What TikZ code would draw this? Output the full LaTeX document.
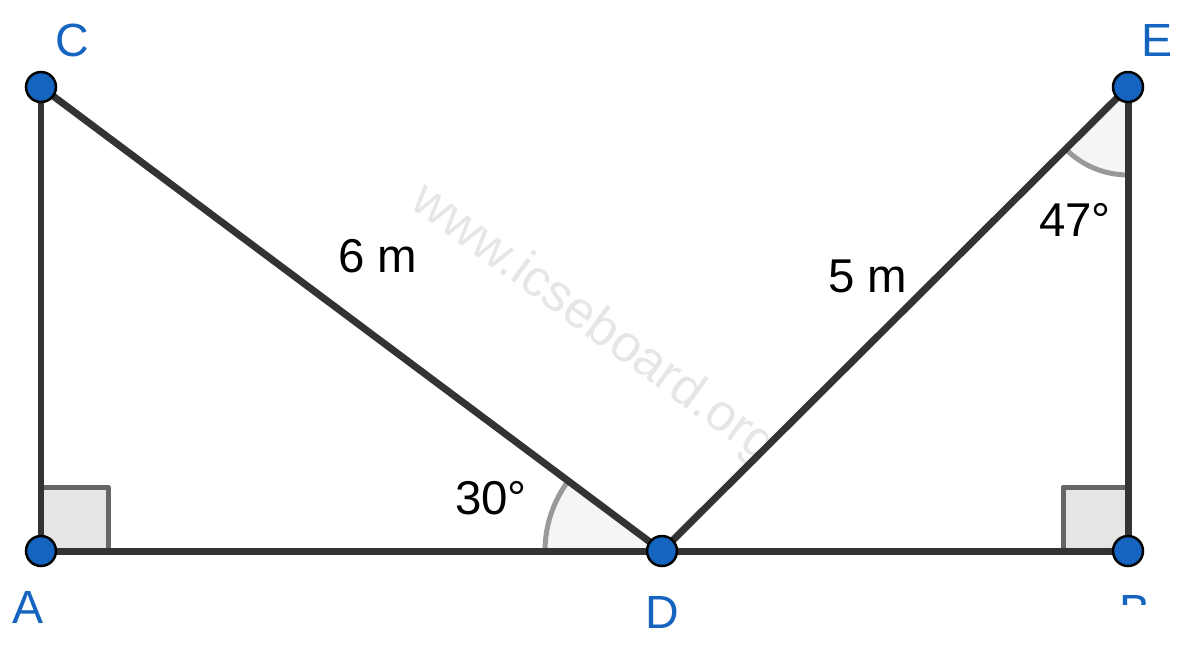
\documentclass[tikz,border=0pt]{standalone}
\usepackage{fontspec}
\setmainfont{Liberation Sans}
\definecolor{ptblue}{HTML}{1565C0}
\definecolor{segc}{HTML}{333333}
\definecolor{wmark}{HTML}{E6E6E6}
\tikzset{
  seg/.style={draw=segc, line width=0.14cm},
  pt/.style={circle, fill=ptblue, draw=black, line width=0.05cm, minimum size=0.6cm, inner sep=0pt},
  lbl/.style={text=ptblue, font=\fontsize{26.5}{30}\selectfont, inner sep=0pt},
  txt/.style={text=black, font=\fontsize{27}{30}\selectfont, inner sep=0pt},
  rightsq/.style={fill=black!10, draw=black!60, line width=0.1cm, line join=round},
  angsec/.style={fill=black!4},
  angarc/.style={draw=black!40, line width=0.1cm}
}
\begin{document}
\begin{tikzpicture}[x=0.02cm, y=-0.02cm]
\useasboundingbox (0,0) rectangle (1183,650);
\coordinate (A) at (41,551);
\coordinate (C) at (41,87);
\coordinate (D) at (662,551);
\coordinate (E) at (1128,87);
\coordinate (B) at (1128,551);
% watermark
\node[text=wmark, font=\fontsize{29.5}{32}\selectfont, rotate=-36, inner sep=0pt] (wm) at (593,324) {www.icseboard.org};
% right angles
\draw[rightsq] (A) rectangle (108,487);
\draw[rightsq] (1063,487) rectangle (B);
% angle sectors
\fill[angsec] (D) -- ++(-143.23:117) arc[start angle=-143.23, end angle=-180, radius=117] -- cycle;
\draw[angarc] (D) ++(-143.23:117) arc[start angle=-143.23, end angle=-180, radius=117];
\fill[angsec] (E) -- ++(-224.88:88) arc[start angle=-224.88, end angle=-270, radius=88] -- cycle;
\draw[angarc] (E) ++(-224.88:88) arc[start angle=-224.88, end angle=-270, radius=88];
% segments
\draw[seg] (A) -- (C);
\draw[seg] (C) -- (D);
\draw[seg] (A) -- (D);
\draw[seg] (D) -- (B);
\draw[seg] (D) -- (E);
\draw[seg] (E) -- (B);
% points
\node[pt] (pA) at (A) {};
\node[pt] (pC) at (C) {};
\node[pt] (pD) at (D) {};
\node[pt] (pE) at (E) {};
\node[pt] (pB) at (B) {};
% labels
\node[lbl] (lC) at (72,40) {C};
\node[lbl] (lE) at (1157,40) {E};
\node[lbl] (lA) at (28,607) {A};
\node[lbl] (lD) at (662,612) {D};
\begin{scope}
\clip (1100,560) rectangle (1183,604);
\node[lbl] (lB) at (1135,611) {B};
\end{scope}
\node[txt] (t6) at (378,256) {6 m};
\node[txt] (t5) at (868,276) {5 m};
\node[txt] (t30) at (491,498) {30°};
\node[txt] (t47) at (1075,220) {47°};
\end{tikzpicture}
\end{document}
